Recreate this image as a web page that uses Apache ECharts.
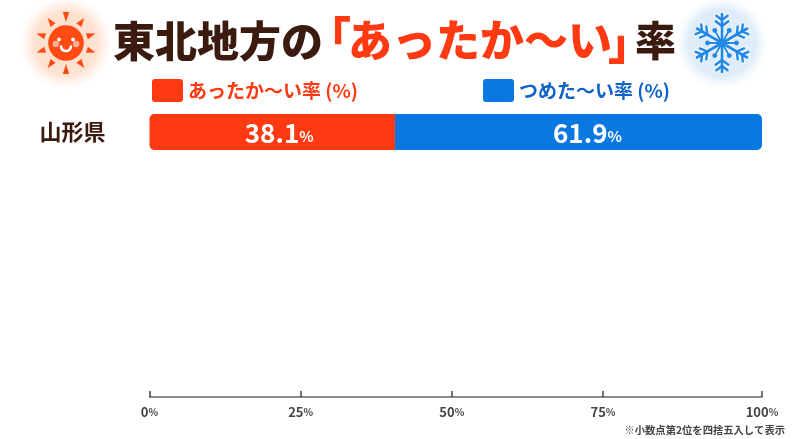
<!DOCTYPE html>
<html><head><meta charset="utf-8">
<style>html,body{margin:0;padding:0;background:#fff}#c{width:800px;height:439px}</style>
<script src="https://cdn.jsdelivr.net/npm/echarts@6/dist/echarts.min.js"></script>
</head><body><div id="c"></div>
<script>
const categories = ['山形県','','','','',''];
// The reference's drawn bar split and tick spacing do not follow its printed
// numbers: the ticks are 151px apart up to 75%, then the 100% tick sits further out,
// and the split falls near 40% although the labels read 38.1 / 61.9.
// Drawn lengths and printed labels are therefore kept apart.
const warmDrawn = [40.6];
const coldDrawn = [60.7];
const warmLabels = ['38.1'];
const coldLabels = ['61.9'];
const axisEnd = 101.3;
const tickPositions = [0,25,50,75,101.3];
const tickLabels = ['0','25','50','75','100'];
const FONT = '"Noto Sans CJK JP","Noto Sans",sans-serif';
const DARK = '#3b1a10', RED = '#ff3a12', BLUE = '#0a78e2';
const SWATCH = 'path://M3 0H28a3 3 0 0 1 3 3V20a3 3 0 0 1-3 3H3a3 3 0 0 1-3-3V3a3 3 0 0 1 3-3z';

function sunGraphic(){
  const cx=66, cy=43, out=[], col='#ff4a14';
  out.push({type:'circle',silent:true,shape:{cx,cy,r:47},style:{fill:{type:'radial',x:.5,y:.5,r:.5,colorStops:[{offset:0,color:'#ffdcc8'},{offset:.68,color:'#ffe2d2'},{offset:1,color:'rgba(255,240,232,0)'}]}}});
  for(let i=0;i<10;i++){
    const a=i*Math.PI/5-Math.PI/2, ca=Math.cos(a), sa=Math.sin(a), w=3.2;
    const inner = i%5===0 ? 31 : 22, outer = i%5===0 ? 21 : 31;
    out.push({type:'polygon',silent:true,shape:{points:[
      [cx+ca*inner-sa*w,cy+sa*inner+ca*w],
      [cx+ca*inner+sa*w,cy+sa*inner-ca*w],
      [cx+ca*outer,cy+sa*outer]]},style:{fill:col}});
  }
  out.push({type:'circle',silent:true,shape:{cx,cy,r:17.8},style:{fill:col}});
  [-7,7].forEach(dx=>{
    out.push({type:'circle',silent:true,shape:{cx:cx+dx*1.45,cy:cy+1,r:3.2},style:{fill:'#ffb096'}});
    out.push({type:'circle',silent:true,shape:{cx:cx+dx,cy:cy-3.5,r:1.9},style:{fill:'#fff'}});
  });
  out.push({type:'arc',silent:true,shape:{cx,cy:cy+3,r:5,startAngle:0.1,endAngle:Math.PI-0.1},style:{stroke:'#fff',fill:'none',lineWidth:2.6,lineCap:'round'}});
  return out;
}
function flakeGraphic(){
  const cx=722, cy=43, out=[], col='#2288e6';
  out.push({type:'circle',silent:true,shape:{cx,cy,r:47},style:{fill:{type:'radial',x:.5,y:.5,r:.5,colorStops:[{offset:0,color:'#dcebf9'},{offset:.72,color:'#e0edf9'},{offset:1,color:'rgba(242,248,253,0)'}]}}});
  const segs=[], dots=[];
  for(let i=0;i<6;i++){
    const a=i*Math.PI/3-Math.PI/2, ux=Math.cos(a), uy=Math.sin(a);
    segs.push([cx,cy,cx+ux*29,cy+uy*29,2.6]);
    [[17,8],[23,7]].forEach(([d,l])=>{
      [1,-1].forEach(s=>{
        const b=a+s*Math.PI/3.4;
        segs.push([cx+ux*d,cy+uy*d,cx+ux*d+Math.cos(b)*l,cy+uy*d+Math.sin(b)*l,2.4]);
      });
    });
    const c=a+Math.PI/6, dx=Math.cos(c)*14.5, dy=Math.sin(c)*14.5;
    segs.push([cx,cy,cx+dx,cy+dy,1.8]);
    dots.push([cx+dx,cy+dy]);
  }
  segs.forEach(([x1,y1,x2,y2,w])=>out.push({type:'line',silent:true,shape:{x1,y1,x2,y2},style:{stroke:'#f3f8fd',lineWidth:w+2,lineCap:'round'}}));
  segs.forEach(([x1,y1,x2,y2,w])=>out.push({type:'line',silent:true,shape:{x1,y1,x2,y2},style:{stroke:col,lineWidth:w,lineCap:'round'}}));
  dots.forEach(([x,y])=>out.push({type:'circle',silent:true,shape:{cx:x,cy:y,r:2.4},style:{fill:col}}));
  out.push({type:'circle',silent:true,shape:{cx,cy,r:4},style:{fill:col}});
  return out;
}
const barRich={n:{fontFamily:FONT,fontSize:26,fontWeight:700,color:'#fff'},p:{fontFamily:FONT,fontSize:15,fontWeight:700,color:'#fff',padding:[6,0,0,0]}};
const chart = echarts.init(document.getElementById('c'));
chart.setOption({
  animation:false,
  backgroundColor:'#fff',
  title:[
    {text:'東北地方の',left:108,top:15,textStyle:{fontFamily:FONT,fontSize:42,fontWeight:900,color:DARK}},
    {text:'「',left:302,top:10,textStyle:{fontFamily:FONT,fontSize:44,fontWeight:900,color:RED}},
    {text:'あったか〜い',left:343,top:13,textStyle:{fontFamily:FONT,fontSize:44,fontWeight:900,color:RED}},
    {text:'」',left:603,top:16,textStyle:{fontFamily:FONT,fontSize:44,fontWeight:900,color:RED}},
    {text:'率',left:630,top:15,textStyle:{fontFamily:FONT,fontSize:41,fontWeight:900,color:DARK}},
    {text:'※小数点第2位を四捨五入して表示',right:10,top:420,textStyle:{fontFamily:FONT,fontSize:10.3,fontWeight:700,color:'#444'}}
  ],
  legend:[
    {data:['あったか〜い率 (%)'],left:152,top:79,padding:0,itemWidth:31,itemHeight:23,itemGap:10,icon:SWATCH,selectedMode:false,textStyle:{fontFamily:FONT,fontSize:19,fontWeight:700,color:RED}},
    {data:['つめた〜い率 (%)'],left:483,top:79,padding:0,itemWidth:31,itemHeight:23,itemGap:10,icon:SWATCH,selectedMode:false,textStyle:{fontFamily:FONT,fontSize:19,fontWeight:700,color:'#0f62c8'}}
  ],
  grid:{left:149.5,right:38,top:108,bottom:42},
  xAxis:{type:'value',min:0,max:axisEnd,
    axisLine:{show:true,lineStyle:{color:'#666',width:1.5}},
    axisTick:{show:true,inside:true,length:6,customValues:tickPositions,lineStyle:{color:'#444',width:1.5}},
    splitLine:{show:false},
    axisLabel:{margin:9,customValues:tickPositions,showMinLabel:true,showMaxLabel:true,
      formatter:v=>'{n|'+tickLabels[tickPositions.indexOf(v)]+'}{p|%}',rich:{
      n:{fontFamily:FONT,fontSize:13,fontWeight:700,color:'#444'},
      p:{fontFamily:FONT,fontSize:10,fontWeight:700,color:'#444'}}}},
  yAxis:{type:'category',inverse:true,data:categories,
    axisLine:{show:false},axisTick:{show:false},
    axisLabel:{margin:44,interval:0,fontFamily:FONT,fontSize:22,fontWeight:700,color:DARK}},
  series:[
    {name:'あったか〜い率 (%)',type:'bar',stack:'t',barWidth:36,data:warmDrawn,
     itemStyle:{color:RED,borderRadius:[5,0,0,5]},
     label:{show:true,position:'inside',offset:[7,1],formatter:p=>'{n|'+warmLabels[p.dataIndex]+'}{p|%}',rich:barRich}},
    {name:'つめた〜い率 (%)',type:'bar',stack:'t',barWidth:36,data:coldDrawn,
     itemStyle:{color:BLUE,borderRadius:[0,5,5,0]},
     label:{show:true,position:'inside',offset:[9,1],formatter:p=>'{n|'+coldLabels[p.dataIndex]+'}{p|%}',rich:barRich}}
  ],
  graphic:sunGraphic().concat(flakeGraphic())
});
</script></body></html>
